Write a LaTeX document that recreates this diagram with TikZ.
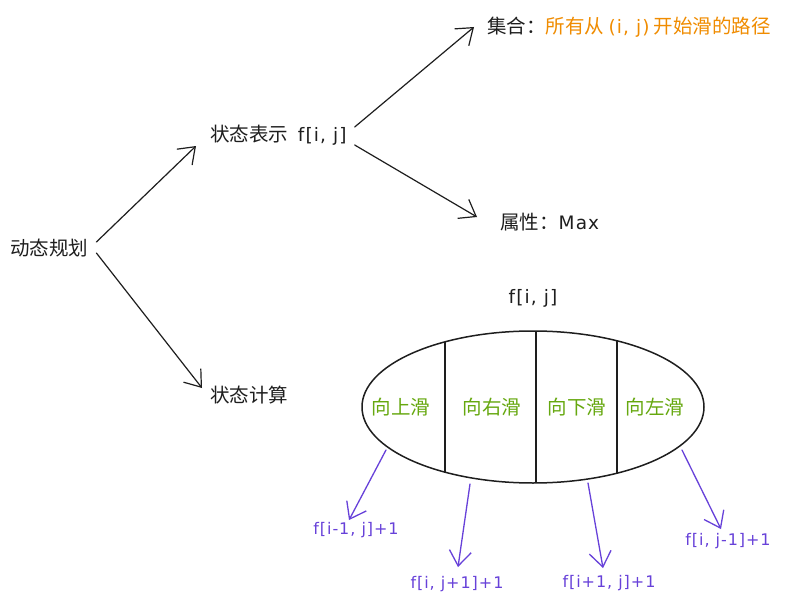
\documentclass[tikz,border=0pt]{standalone}
\usepackage{fontspec}
\setmainfont{Noto Sans CJK SC}
\newfontfamily\hand{DejaVu Sans}[LetterSpace=6]
\usetikzlibrary{arrows.meta,shapes.geometric,calc}
\definecolor{ink}{HTML}{1E1E1E}
\definecolor{orng}{HTML}{F08C00}
\definecolor{grn}{HTML}{66A80F}
\definecolor{purp}{HTML}{6741D9}
\newcommand{\hd}[1]{{\hand\fontsize{18.5}{20}\selectfont #1}}
\begin{document}
\begin{tikzpicture}[x=1pt,y=-1pt,
  txt/.style={inner sep=0pt, font=\fontsize{19.5}{22}\selectfont, text=ink},
  gtxt/.style={inner sep=0pt, font=\fontsize{19.5}{22}\selectfont, text=grn},
  hand/.style={inner sep=0pt, font=\hand\fontsize{16}{18}\selectfont, text=purp},
  arr/.style={draw=ink, line width=1.2pt, line cap=round, -{Straight Barb[length=15pt,width=22pt,line width=1.2pt]}},
  parr/.style={draw=purp, line width=1.3pt, line cap=round, -{Straight Barb[length=15pt,width=22pt,line width=1.3pt]}},
  sep/.style={draw=ink, line width=1.4pt}
]
\fill[white] (0,0) rectangle (793,610);
\useasboundingbox (0,0) rectangle (793,610);

\node[txt, anchor=west] (dp) at (10,248) {动态规划};
\node[txt, anchor=west] (rep) at (210,135) {状态表示\hspace{0.5em}\hd{f[i, j]}};
\node[txt, anchor=west] (comp) at (210,395) {状态计算};
\node[txt, anchor=west] (set) at (487,27) {集合：\textcolor{orng}{所有从 \hd{(i, j)} 开始滑的路径}};
\node[txt, anchor=west] (attr) at (500,222) {属性：\hd{Max}};
\node[txt] (fij) at (533,298) {\hd{f[i, j]}};

\node[draw=ink, line width=1.5pt, ellipse, minimum width=342pt, minimum height=152pt, inner sep=0pt] (ell) at (533,407) {};
\draw[sep] (445,342) -- (445,472);
\draw[sep] (536,331) -- (536,483);
\draw[sep] (617,341) -- (617,473);

\node[gtxt] (up) at (401,407) {向上滑};
\node[gtxt] (right) at (492,407) {向右滑};
\node[gtxt] (down) at (577,407) {向下滑};
\node[gtxt] (left) at (655,407) {向左滑};

\draw[arr] ($(dp.east)+(8,-6)$) -- ($(rep.west)+(-14,11)$);
\draw[arr] ($(dp.east)+(8,5)$) -- ($(comp.west)+(-8,-7)$);
\draw[arr] ($(rep.east)+(8,-8)$) -- ($(set.west)+(-13,0)$);
\draw[arr] ($(rep.east)+(8,10)$) -- ($(attr.west)+(-23,-5)$);

\node[hand] (l1) at (356,530) {f[i-1, j]+1};
\node[hand] (l2) at (457,584) {f[i, j+1]+1};
\node[hand] (l3) at (609,583) {f[i+1, j]+1};
\node[hand] (l4) at (728,541) {f[i, j-1]+1};

\coordinate (s1) at (386,450);
\coordinate (s2) at (470,484);
\coordinate (s3) at (588,483);
\coordinate (s4) at (682,450);

\draw[parr] (s1) -- ($(l1.north)+(-7,-2)$);
\draw[parr] (s2) -- ($(l2.north)+(1,-9)$);
\draw[parr] (s3) -- ($(l3.north)+(-6,-7)$);
\draw[parr] (s4) -- ($(l4.north)+(-7,-4)$);
\end{tikzpicture}
\end{document}
